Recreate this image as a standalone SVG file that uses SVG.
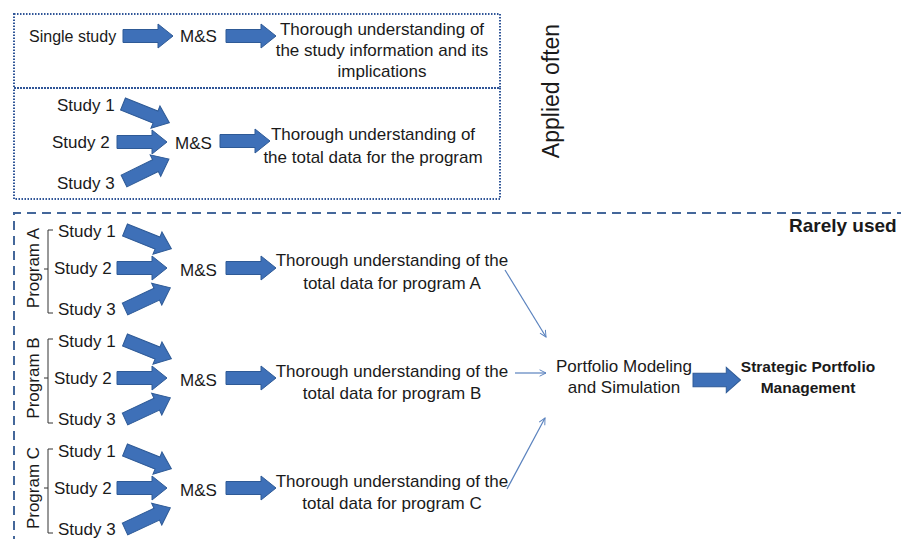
<svg xmlns="http://www.w3.org/2000/svg" xmlns:xlink="http://www.w3.org/1999/xlink" width="901" height="539" viewBox="0 0 901 539">
<style>
.t{font-family:"Liberation Sans",Arial,sans-serif;font-size:17px;fill:#1a1a1a}
.c{text-anchor:middle}
.b{font-weight:bold}
.ba{fill:#3E70B8;stroke:#2E5A96;stroke-width:1}
.thin{fill:none;stroke:#5A82BE;stroke-width:1.2}
.br{fill:none;stroke:#333;stroke-width:1}
.dot{fill:none;stroke:#2F5597;stroke-width:2;stroke-dasharray:1.5 1.5}
.dash{fill:none;stroke:#44679A;stroke-width:2;stroke-dasharray:9 6}
</style>
<defs>
<path id="ba" d="M0,-6.5 H35 V-12 L50,0 L35,12 V6.5 H0 Z"/>
<marker id="oa" viewBox="0 0 10 10" refX="9" refY="5" markerWidth="8" markerHeight="8" orient="auto" markerUnits="userSpaceOnUse">
<path d="M1,1 L9,5 L1,9" fill="none" stroke="#5A82BE" stroke-width="1.2"/>
</marker>
</defs>
<rect width="901" height="539" fill="#fff"/>

<g id="frames">
<rect class="dot" x="14" y="14" width="486" height="74"/>
<rect class="dot" x="14" y="88" width="486" height="111"/>
<path class="dash" d="M14,545 V213 H905"/>
</g>

<g id="label-applied"><text class="t c" transform="translate(559,91) rotate(-90)" style="font-size:23px">Applied often</text></g>
<g id="label-rarely"><text class="t b" x="789" y="232" style="font-size:19px">Rarely used</text></g>

<g id="single">
<text class="t" x="29" y="42" style="font-size:16px">Single study</text>
<text class="t" x="180" y="42">M&amp;S</text>
<text class="t c" x="382" y="35">Thorough understanding of</text>
<text class="t c" x="382" y="56">the study information and its</text>
<text class="t c" x="382" y="77">implications</text>
</g>

<g id="program-combined">
<text class="t" x="57" y="111">Study 1</text>
<text class="t" x="52" y="148">Study 2</text>
<text class="t" x="57" y="189">Study 3</text>
<text class="t" x="175" y="149">M&amp;S</text>
<text class="t c" x="373" y="140">Thorough understanding of</text>
<text class="t c" x="373" y="163">the total data for the program</text>
</g>

<g id="programA">
<text class="t c" transform="translate(39,268) rotate(-90)">Program A</text>
<path class="br" d="M53,230 H48 V313 H53 M48,269 H44"/>
<text class="t" x="58" y="237">Study 1</text>
<text class="t" x="54" y="274">Study 2</text>
<text class="t" x="58" y="315">Study 3</text>
<text class="t" x="180" y="276">M&amp;S</text>
<text class="t c" x="392" y="266">Thorough understanding of the</text>
<text class="t c" x="392" y="289">total data for program A</text>
</g>

<g id="programB">
<text class="t c" transform="translate(39,378) rotate(-90)">Program B</text>
<path class="br" d="M53,339 H48 V423 H53 M48,378 H44"/>
<text class="t" x="58" y="347">Study 1</text>
<text class="t" x="54" y="384">Study 2</text>
<text class="t" x="58" y="425">Study 3</text>
<text class="t" x="180" y="386">M&amp;S</text>
<text class="t c" x="392" y="377">Thorough understanding of the</text>
<text class="t c" x="392" y="399">total data for program B</text>
</g>

<g id="programC">
<text class="t c" transform="translate(39,488) rotate(-90)">Program C</text>
<path class="br" d="M53,449 H48 V533 H53 M48,488 H44"/>
<text class="t" x="58" y="457">Study 1</text>
<text class="t" x="54" y="494">Study 2</text>
<text class="t" x="58" y="535">Study 3</text>
<text class="t" x="180" y="496">M&amp;S</text>
<text class="t c" x="392" y="487">Thorough understanding of the</text>
<text class="t c" x="392" y="509">total data for program C</text>
</g>

<g id="portfolio">
<text class="t c" x="624" y="372">Portfolio Modeling</text>
<text class="t c" x="624" y="393">and Simulation</text>
</g>
<g id="strategic">
<text class="t c b" x="808" y="372" style="font-size:15.5px">Strategic Portfolio</text>
<text class="t c b" x="808" y="393" style="font-size:15.5px">Management</text>
</g>

<g id="connectors">
<use xlink:href="#ba" class="ba" transform="translate(123,36)"/>
<use xlink:href="#ba" class="ba" transform="translate(226,36)"/>

<use xlink:href="#ba" class="ba" transform="translate(123,104) rotate(22)"/>
<use xlink:href="#ba" class="ba" transform="translate(117,142)"/>
<use xlink:href="#ba" class="ba" transform="translate(124,181) rotate(-26)"/>
<use xlink:href="#ba" class="ba" transform="translate(220,141)"/>

<use xlink:href="#ba" class="ba" transform="translate(125,230) rotate(22)"/>
<use xlink:href="#ba" class="ba" transform="translate(117,268)"/>
<use xlink:href="#ba" class="ba" transform="translate(125,309) rotate(-25)"/>
<use xlink:href="#ba" class="ba" transform="translate(226,268)"/>

<use xlink:href="#ba" class="ba" transform="translate(125,340) rotate(22)"/>
<use xlink:href="#ba" class="ba" transform="translate(117,378)"/>
<use xlink:href="#ba" class="ba" transform="translate(125,419) rotate(-25)"/>
<use xlink:href="#ba" class="ba" transform="translate(226,378)"/>

<use xlink:href="#ba" class="ba" transform="translate(125,450) rotate(22)"/>
<use xlink:href="#ba" class="ba" transform="translate(117,488)"/>
<use xlink:href="#ba" class="ba" transform="translate(125,529) rotate(-25)"/>
<use xlink:href="#ba" class="ba" transform="translate(226,488)"/>

<line class="thin" x1="505" y1="270" x2="546" y2="337" marker-end="url(#oa)"/>
<line class="thin" x1="515" y1="373" x2="546" y2="373" marker-end="url(#oa)"/>
<line class="thin" x1="507" y1="489" x2="545" y2="418" marker-end="url(#oa)"/>

<use xlink:href="#ba" class="ba" transform="translate(693,380) scale(0.95,1.05)"/>
</g>
</svg>
